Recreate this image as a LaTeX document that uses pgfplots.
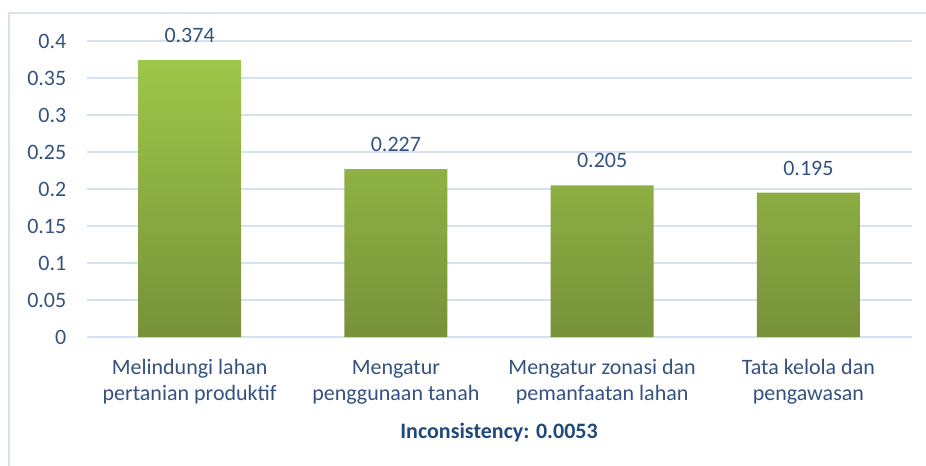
\documentclass[border=0pt]{standalone}
\usepackage{pgfplots}
\pgfplotsset{compat=1.18}
\usepackage{fontspec}
\setmainfont{Carlito}
\definecolor{txt}{RGB}{52,82,128}
\definecolor{txtb}{RGB}{31,73,125}
\definecolor{gridc}{RGB}{212,225,241}
\definecolor{framec}{RGB}{217,226,238}
\definecolor{gtop}{RGB}{158,198,74}
\definecolor{gbot}{RGB}{118,146,58}
\begin{document}
\begin{tikzpicture}[x=1bp,y=1bp]
\useasboundingbox (0,0) rectangle (926,-466);
\draw[framec, line width=1.5bp] (9,-480) -- (9,-13) -- (940,-13);
\begin{axis}[
  at={(86.5bp,-337bp)}, anchor=south west,
  scale only axis, width=825bp, height=296bp,
  xmin=-0.5, xmax=3.5, ymin=0, ymax=0.4,
  ytick={0,0.05,0.1,0.15,0.2,0.25,0.3,0.35,0.4},
  yticklabels={0,0.05,0.1,0.15,0.2,0.25,0.3,0.35,0.4},
  xtick={0,1,2,3},
  xticklabels={{\strut Melindungi lahan\\pertanian produktif},{\strut Mengatur\\penggunaan tanah},{\strut Mengatur zonasi dan\\pemanfaatan lahan},{\strut Tata kelola dan\\pengawasan}},
  axis line style={draw=none}, major tick length=0pt,
  ymajorgrids, grid style={gridc, line width=1.5bp},
  yticklabel style={font=\fontsize{22bp}{26bp}\selectfont, text=txt, inner sep=0pt, anchor=east, xshift=-20bp},
  xticklabel style={font=\fontsize{22bp}{26bp}\selectfont, text=txt, inner sep=0pt, align=center, anchor=north, yshift=-18.8bp},
  xlabel={\bfseries Inconsistency: 0.0053},
  xlabel style={at={(axis description cs:0.5,0)}, anchor=base, yshift=-101bp, inner sep=0pt, font=\fontsize{22bp}{26bp}\selectfont, text=txtb},
  clip=false,
]
\addplot[ybar, bar width=103bp, draw=none, top color=gtop, bottom color=gbot,
  point meta=explicit symbolic, nodes near coords,
  every node near coord/.append style={font=\fontsize{22bp}{26bp}\selectfont, text=txt, inner sep=0pt, anchor=south, yshift=17bp}]
  coordinates {(0,0.374)[0.374] (1,0.227)[0.227] (2,0.205)[0.205] (3,0.195)[0.195]};
\end{axis}
\end{tikzpicture}
\end{document}
